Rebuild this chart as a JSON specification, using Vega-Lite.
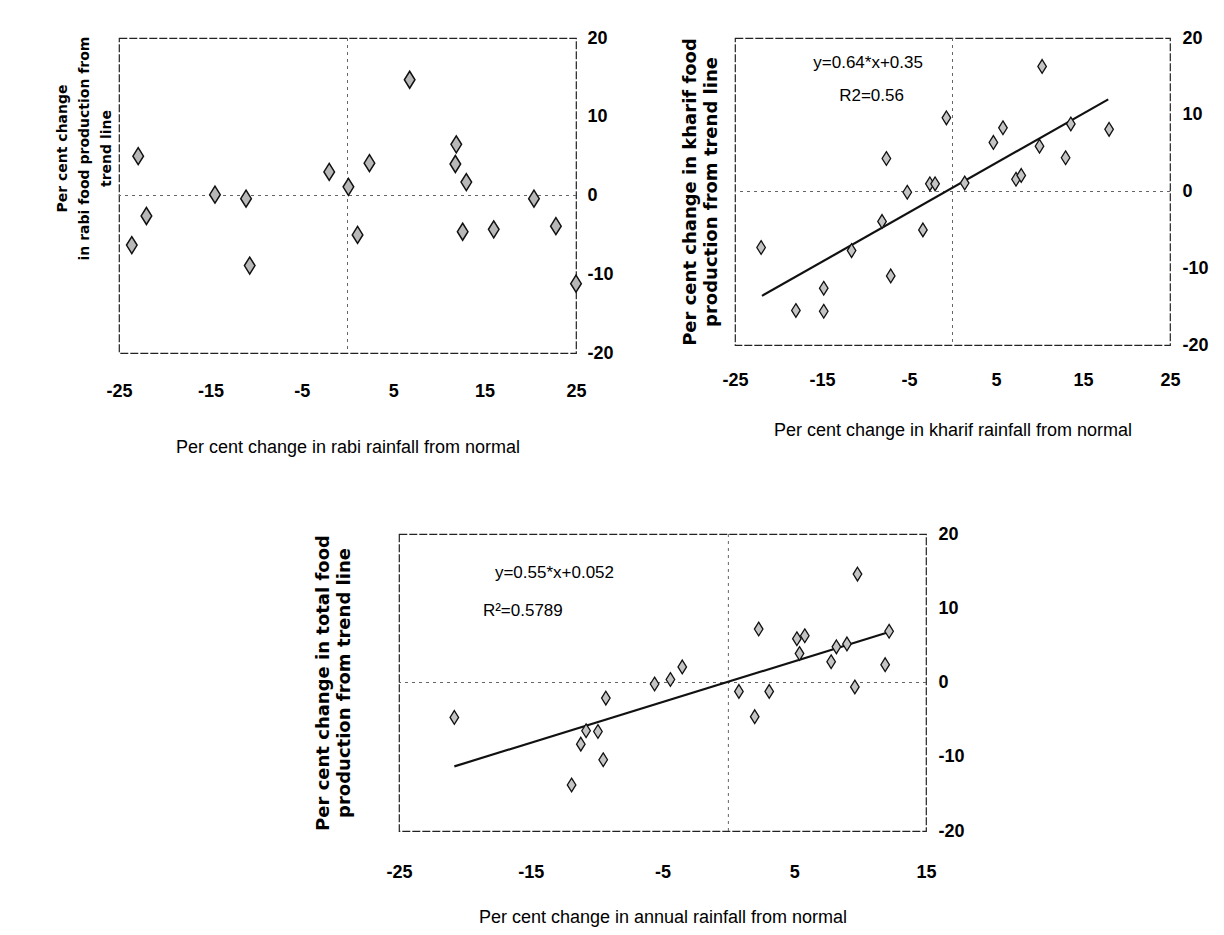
{
  "$schema": "https://vega.github.io/schema/vega-lite/v6.json",
  "background": "white",
  "padding": {"left": 54, "top": 28, "right": 5, "bottom": 5},
  "config": {
    "view": {"stroke": "#222", "strokeWidth": 1.2, "strokeDash": [8, 2]},
    "font": "Liberation Sans",
    "axis": {"grid": false, "ticks": false, "domain": false, "labelColor": "#000", "titleColor": "#000", "labelFlush": false, "labelOverlap": false, "labelBound": false}
  },
  "datasets": {
    "rabi": [
      {"x": -22.9, "y": 5.0}, {"x": -22.0, "y": -2.6}, {"x": -23.6, "y": -6.3}, {"x": -14.5, "y": 0.1},
      {"x": -11.1, "y": -0.4}, {"x": -10.7, "y": -8.9}, {"x": -2.0, "y": 3.0}, {"x": 0.1, "y": 1.1},
      {"x": 1.1, "y": -5.0}, {"x": 2.4, "y": 4.1}, {"x": 6.8, "y": 14.7}, {"x": 11.9, "y": 6.5},
      {"x": 11.8, "y": 4.0}, {"x": 13.0, "y": 1.7}, {"x": 12.6, "y": -4.6}, {"x": 16.0, "y": -4.3},
      {"x": 20.4, "y": -0.4}, {"x": 22.8, "y": -3.9}, {"x": 25.0, "y": -11.2}
    ],
    "kharif": [
      {"x": -22.0, "y": -7.3}, {"x": -18.0, "y": -15.5}, {"x": -14.8, "y": -12.6}, {"x": -14.8, "y": -15.6},
      {"x": -11.6, "y": -7.7}, {"x": -8.1, "y": -3.9}, {"x": -7.6, "y": 4.3}, {"x": -7.1, "y": -11.0},
      {"x": -5.2, "y": -0.1}, {"x": -3.4, "y": -5.0}, {"x": -2.6, "y": 1.0}, {"x": -2.0, "y": 1.0},
      {"x": -0.7, "y": 9.6}, {"x": 1.4, "y": 1.1}, {"x": 4.7, "y": 6.4}, {"x": 5.8, "y": 8.3},
      {"x": 7.3, "y": 1.6}, {"x": 7.9, "y": 2.1}, {"x": 10.0, "y": 5.9}, {"x": 10.3, "y": 16.3},
      {"x": 13.0, "y": 4.4}, {"x": 13.6, "y": 8.8}, {"x": 18.0, "y": 8.1}
    ],
    "kharifTrend": [{"x": -21.9, "y": -13.6}, {"x": 17.9, "y": 12.0}],
    "annual": [
      {"x": -20.8, "y": -4.7}, {"x": -11.9, "y": -13.8}, {"x": -11.2, "y": -8.3}, {"x": -10.8, "y": -6.5},
      {"x": -9.9, "y": -6.6}, {"x": -9.5, "y": -10.4}, {"x": -9.3, "y": -2.1}, {"x": -5.6, "y": -0.2},
      {"x": -4.4, "y": 0.4}, {"x": -3.5, "y": 2.1}, {"x": 0.8, "y": -1.2}, {"x": 2.0, "y": -4.6},
      {"x": 2.3, "y": 7.2}, {"x": 3.1, "y": -1.2}, {"x": 5.2, "y": 5.9}, {"x": 5.8, "y": 6.3},
      {"x": 5.4, "y": 3.9}, {"x": 7.8, "y": 2.8}, {"x": 8.2, "y": 4.8}, {"x": 9.0, "y": 5.2},
      {"x": 9.6, "y": -0.6}, {"x": 9.8, "y": 14.6}, {"x": 11.9, "y": 2.4}, {"x": 12.2, "y": 6.9}
    ],
    "annualTrend": [{"x": -20.8, "y": -11.3}, {"x": 12.2, "y": 6.8}]
  },
  "spacing": 67,
  "vconcat": [
    {
      "spacing": 66,
      "hconcat": [
        {
          "width": 457, "height": 315,
          "resolve": {"axis": {"y": "independent"}},
          "layer": [
            {
              "data": {"values": [{}]},
              "mark": {"type": "rule", "color": "#666", "strokeWidth": 1, "strokeDash": [3, 4]},
              "encoding": {"y": {"datum": 0, "type": "quantitative", "scale": {"domain": [-20, 20], "nice": false, "zero": false},
                "axis": {"orient": "left", "labels": false, "title": ["Per cent change", "in rabi food production from", "trend line"], "titleFont": "DejaVu Sans", "titleFontSize": 14, "titleFontWeight": "bold", "titlePadding": 6, "titleLineHeight": 22, "titleY": 110}}}
            },
            {
              "data": {"values": [{}]},
              "mark": {"type": "rule", "color": "#666", "strokeWidth": 1, "strokeDash": [3, 4]},
              "encoding": {"x": {"datum": 0, "type": "quantitative", "scale": {"domain": [-25, 25], "nice": false, "zero": false},
                "axis": {"orient": "bottom", "values": [-25, -15, -5, 5, 15, 25], "labelExpr": "'' + datum.value", "labelPadding": 29, "labelFont": "Liberation Sans Narrow, Arial Narrow, Liberation Sans", "labelFontSize": 18, "labelFontWeight": "bold", "title": "Per cent change in rabi rainfall from normal", "titleFont": "Liberation Sans Narrow, Arial Narrow, Liberation Sans", "titleFontSize": 18, "titleFontWeight": "normal", "titlePadding": 38}}}
            },
            {
              "data": {"name": "rabi"},
              "mark": {"type": "point", "shape": "M0,-1.2L0.75,0L0,1.2L-0.75,0Z", "size": 200, "filled": true, "fill": "#b8b8b8", "stroke": "#111", "strokeWidth": 1.5, "strokeDash": [], "opacity": 1},
              "encoding": {
                "x": {"field": "x", "type": "quantitative", "scale": {"domain": [-25, 25], "nice": false, "zero": false}},
                "y": {"field": "y", "type": "quantitative", "scale": {"domain": [-20, 20], "nice": false, "zero": false},
                  "axis": {"orient": "right", "values": [-20, -10, 0, 10, 20], "labelExpr": "'' + datum.value", "labelPadding": 11, "labelFont": "Liberation Sans Narrow, Arial Narrow, Liberation Sans", "labelFontSize": 18, "labelFontWeight": "bold", "title": null}}
              }
            }
          ]
        },
        {
          "width": 435, "height": 307,
          "resolve": {"axis": {"y": "independent"}},
          "layer": [
            {
              "data": {"values": [{}]},
              "mark": {"type": "rule", "color": "#666", "strokeWidth": 1, "strokeDash": [3, 4]},
              "encoding": {"y": {"datum": 0, "type": "quantitative", "scale": {"domain": [-20, 20], "nice": false, "zero": false},
                "axis": {"orient": "left", "labels": false, "title": ["Per cent change in kharif food", "production from trend line"], "titleFont": "DejaVu Sans", "titleFontSize": 18, "titleFontWeight": "bold", "titlePadding": 15, "titleLineHeight": 21}}}
            },
            {
              "data": {"values": [{}]},
              "mark": {"type": "rule", "color": "#666", "strokeWidth": 1, "strokeDash": [3, 4]},
              "encoding": {"x": {"datum": 0, "type": "quantitative", "scale": {"domain": [-25, 25], "nice": false, "zero": false},
                "axis": {"orient": "bottom", "values": [-25, -15, -5, 5, 15, 25], "labelExpr": "'' + datum.value", "labelPadding": 26, "labelFont": "Liberation Sans Narrow, Arial Narrow, Liberation Sans", "labelFontSize": 18, "labelFontWeight": "bold", "title": "Per cent change in kharif rainfall from normal", "titleFont": "Liberation Sans Narrow, Arial Narrow, Liberation Sans", "titleFontSize": 18, "titleFontWeight": "normal", "titlePadding": 32}}}
            },
            {
              "data": {"name": "kharifTrend"},
              "mark": {"type": "line", "color": "#111", "strokeWidth": 2.2},
              "encoding": {
                "x": {"field": "x", "type": "quantitative", "scale": {"domain": [-25, 25], "nice": false, "zero": false}},
                "y": {"field": "y", "type": "quantitative", "scale": {"domain": [-20, 20], "nice": false, "zero": false}, "axis": null}
              }
            },
            {
              "data": {"name": "kharif"},
              "mark": {"type": "point", "shape": "M0,-1.2L0.75,0L0,1.2L-0.75,0Z", "size": 130, "filled": true, "fill": "#c4c4c4", "stroke": "#111", "strokeWidth": 1.3, "opacity": 1},
              "encoding": {
                "x": {"field": "x", "type": "quantitative", "scale": {"domain": [-25, 25], "nice": false, "zero": false}},
                "y": {"field": "y", "type": "quantitative", "scale": {"domain": [-20, 20], "nice": false, "zero": false},
                  "axis": {"orient": "right", "values": [-20, -10, 0, 10, 20], "labelExpr": "'' + datum.value", "labelPadding": 12, "labelFont": "Liberation Sans Narrow, Arial Narrow, Liberation Sans", "labelFontSize": 18, "labelFontWeight": "bold", "title": null}}
              }
            },
            {
              "data": {"values": [{"t": "y=0.64*x+0.35", "k": "eq"}]},
              "mark": {"type": "text", "font": "Liberation Sans Narrow, Arial Narrow, Liberation Sans", "fontSize": 17, "color": "#000", "align": "center", "baseline": "middle"},
              "encoding": {
                "text": {"field": "t"},
                "x": {"datum": -9.7, "type": "quantitative", "scale": {"domain": [-25, 25], "nice": false, "zero": false}},
                "y": {"datum": 16.7, "type": "quantitative", "scale": {"domain": [-20, 20], "nice": false, "zero": false}, "axis": null}
              }
            },
            {
              "data": {"values": [{"t": "R2=0.56", "k": "r2"}]},
              "mark": {"type": "text", "font": "Liberation Sans Narrow, Arial Narrow, Liberation Sans", "fontSize": 17, "color": "#000", "align": "center", "baseline": "middle"},
              "encoding": {
                "text": {"field": "t"},
                "x": {"datum": -9.3, "type": "quantitative", "scale": {"domain": [-25, 25], "nice": false, "zero": false}},
                "y": {"datum": 12.4, "type": "quantitative", "scale": {"domain": [-20, 20], "nice": false, "zero": false}, "axis": null}
              }
            }
          ]
        }
      ]
    },
    {
      "spacing": 0,
      "hconcat": [
        {
          "width": 194, "height": 10,
          "view": {"stroke": null},
          "data": {"values": []},
          "mark": "point"
        },
        {
          "width": 527, "height": 297,
          "resolve": {"axis": {"y": "independent"}},
          "layer": [
            {
              "data": {"values": [{}]},
              "mark": {"type": "rule", "color": "#666", "strokeWidth": 1, "strokeDash": [3, 4]},
              "encoding": {"y": {"datum": 0, "type": "quantitative", "scale": {"domain": [-20, 20], "nice": false, "zero": false},
                "axis": {"orient": "left", "labels": false, "title": ["Per cent change in total food", "production from trend line"], "titleFont": "DejaVu Sans", "titleFontSize": 18, "titleFontWeight": "bold", "titlePadding": 46, "titleLineHeight": 21}}}
            },
            {
              "data": {"values": [{}]},
              "mark": {"type": "rule", "color": "#666", "strokeWidth": 1, "strokeDash": [3, 4]},
              "encoding": {"x": {"datum": 0, "type": "quantitative", "scale": {"domain": [-25, 15], "nice": false, "zero": false},
                "axis": {"orient": "bottom", "values": [-25, -15, -5, 5, 15], "labelExpr": "'' + datum.value", "labelPadding": 32, "labelFont": "Liberation Sans Narrow, Arial Narrow, Liberation Sans", "labelFontSize": 18, "labelFontWeight": "bold", "title": "Per cent change in annual  rainfall from normal", "titleFont": "Liberation Sans Narrow, Arial Narrow, Liberation Sans", "titleFontSize": 18, "titleFontWeight": "normal", "titlePadding": 27}}}
            },
            {
              "data": {"name": "annualTrend"},
              "mark": {"type": "line", "color": "#111", "strokeWidth": 2.2},
              "encoding": {
                "x": {"field": "x", "type": "quantitative", "scale": {"domain": [-25, 15], "nice": false, "zero": false}},
                "y": {"field": "y", "type": "quantitative", "scale": {"domain": [-20, 20], "nice": false, "zero": false}, "axis": null}
              }
            },
            {
              "data": {"name": "annual"},
              "mark": {"type": "point", "shape": "M0,-1.2L0.75,0L0,1.2L-0.75,0Z", "size": 130, "filled": true, "fill": "#c4c4c4", "stroke": "#111", "strokeWidth": 1.3, "opacity": 1},
              "encoding": {
                "x": {"field": "x", "type": "quantitative", "scale": {"domain": [-25, 15], "nice": false, "zero": false}},
                "y": {"field": "y", "type": "quantitative", "scale": {"domain": [-20, 20], "nice": false, "zero": false},
                  "axis": {"orient": "right", "values": [-20, -10, 0, 10, 20], "labelExpr": "'' + datum.value", "labelPadding": 12, "labelFont": "Liberation Sans Narrow, Arial Narrow, Liberation Sans", "labelFontSize": 18, "labelFontWeight": "bold", "title": null}}
              }
            },
            {
              "data": {"values": [{"t": "y=0.55*x+0.052", "k": "eq"}]},
              "mark": {"type": "text", "font": "Liberation Sans Narrow, Arial Narrow, Liberation Sans", "fontSize": 17, "color": "#000", "align": "center", "baseline": "middle"},
              "encoding": {
                "text": {"field": "t"},
                "x": {"datum": -13.2, "type": "quantitative", "scale": {"domain": [-25, 15], "nice": false, "zero": false}},
                "y": {"datum": 14.8, "type": "quantitative", "scale": {"domain": [-20, 20], "nice": false, "zero": false}, "axis": null}
              }
            },
            {
              "data": {"values": [{"t": "R²=0.5789", "k": "r2"}]},
              "mark": {"type": "text", "font": "Liberation Sans Narrow, Arial Narrow, Liberation Sans", "fontSize": 17, "color": "#000", "align": "center", "baseline": "middle"},
              "encoding": {
                "text": {"field": "t"},
                "x": {"datum": -15.6, "type": "quantitative", "scale": {"domain": [-25, 15], "nice": false, "zero": false}},
                "y": {"datum": 9.6, "type": "quantitative", "scale": {"domain": [-20, 20], "nice": false, "zero": false}, "axis": null}
              }
            }
          ]
        }
      ]
    }
  ]
}
